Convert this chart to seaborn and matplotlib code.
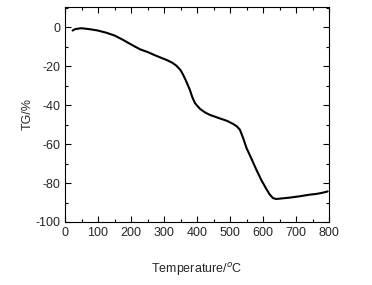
import numpy as np
import matplotlib
matplotlib.use("Agg")
import matplotlib.pyplot as plt
import seaborn as sns
from matplotlib.ticker import MultipleLocator

# TG curve
temperature = [23, 30, 40, 50, 75, 100, 125, 151, 175, 202, 227, 250, 277, 308, 325, 338, 350,
               358, 368, 378, 386, 394, 409, 425, 439, 469, 490, 509, 520, 530, 540, 550,
               565, 580, 595, 610, 620, 630, 640, 651, 680, 711, 740, 761, 780, 796]
tg = [-1.7, -1.0, -0.7, -0.5, -1.0, -1.7, -2.8, -4.3, -6.4, -9.0, -11.3, -12.7, -14.7, -16.8, -18.2, -19.8, -22.0,
      -24.4, -28.0, -32.0, -36.0, -39.0, -41.9, -43.8, -45.0, -46.8, -48.0, -49.6, -50.8, -52.6, -57.0, -62.0,
      -67.5, -73.2, -78.5, -83.0, -85.8, -87.7, -88.2, -88.0, -87.5, -86.8, -86.0, -85.6, -85.0, -84.3]

sns.set_style("ticks")
plt.rcParams['font.family'] = ['Liberation Sans', 'DejaVu Sans']
plt.rcParams['axes.unicode_minus'] = False

fig = plt.figure(figsize=(3.72, 2.85), dpi=100)
ax = fig.add_axes([65/372, 1 - 222/285, (329-65)/372, (222-7)/285])
sns.lineplot(x=temperature, y=tg, ax=ax, color='black', linewidth=1.5)

ax.set_xlim(0, 800)
ax.set_ylim(-100, 10.4)
ax.set_xticks(np.arange(0, 801, 100))
ax.set_yticks(np.arange(-100, 1, 20))
ax.xaxis.set_minor_locator(MultipleLocator(50))
ax.yaxis.set_minor_locator(MultipleLocator(10))
ax.tick_params(which='both', direction='in', top=True, right=True, labelsize=9, width=0.8, color='black')
ax.tick_params(which='major', length=4)
ax.tick_params(which='minor', length=2.5)
for s in ax.spines.values():
    s.set_linewidth(0.8)
    s.set_color('black')

ax.set_xlabel("Temperature/$^o$C", fontsize=9, labelpad=16)
ax.set_ylabel("TG/%", fontsize=9, labelpad=1)

fig.savefig("out.png", dpi=100)
